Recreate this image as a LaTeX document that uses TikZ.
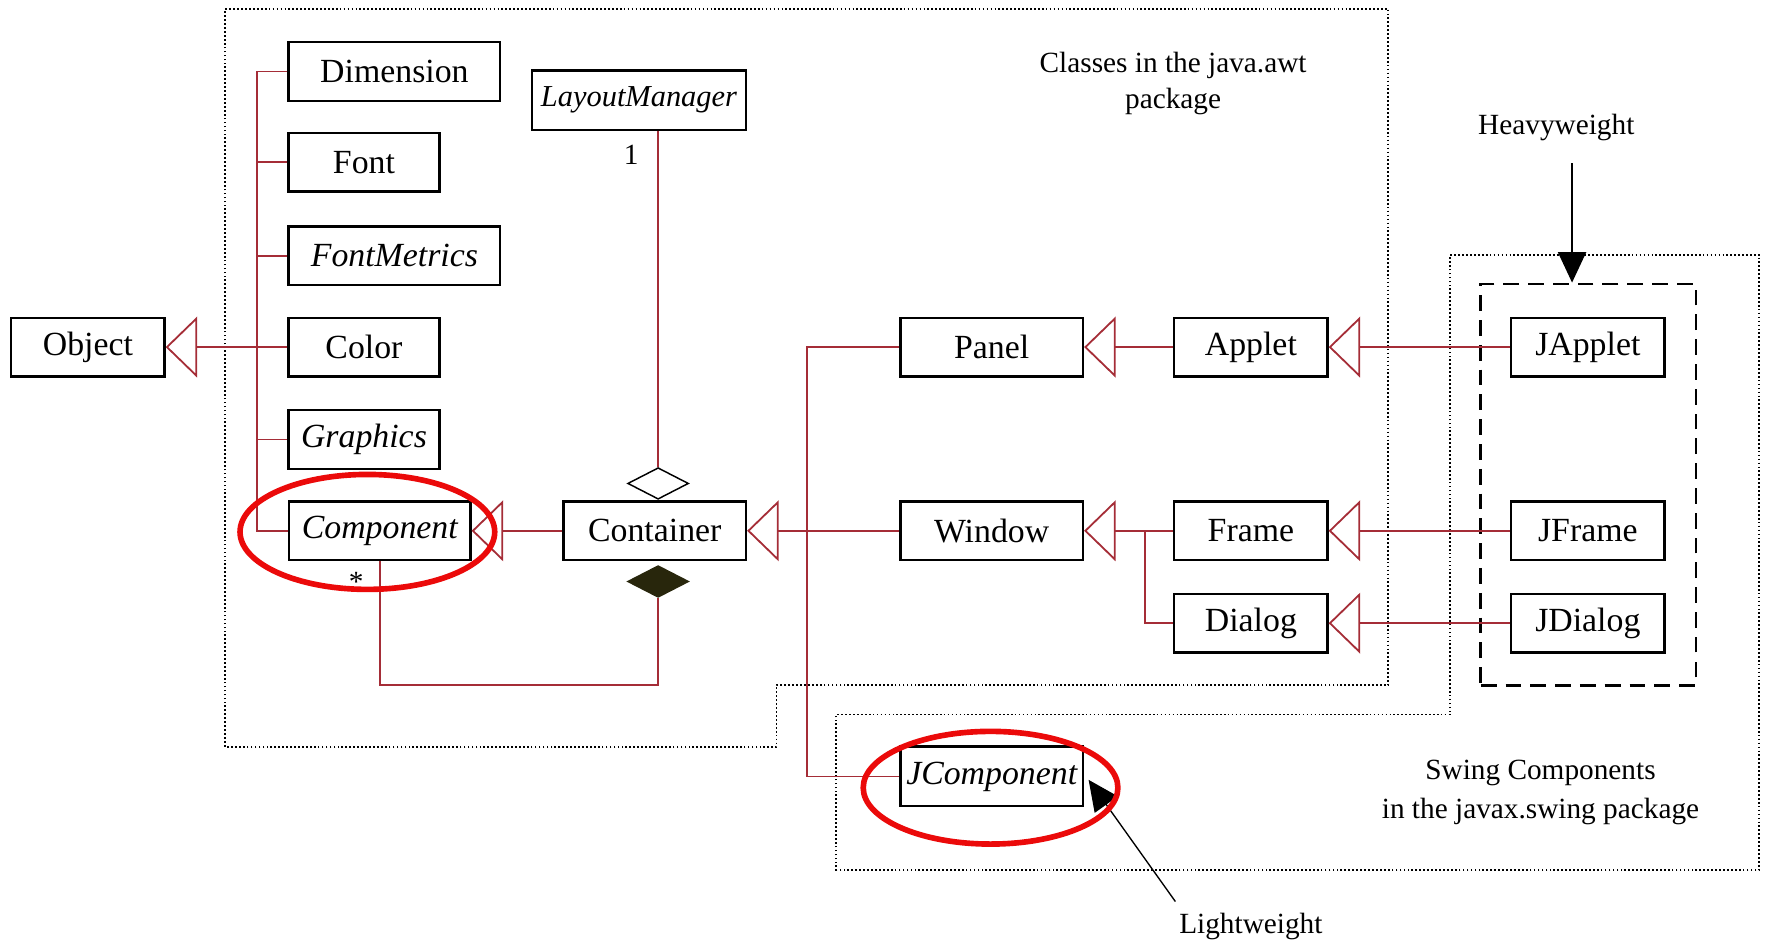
\documentclass[tikz,border=0pt]{standalone}
\usepackage{fontspec}
\setmainfont{Liberation Serif}
\usetikzlibrary{arrows.meta,shapes.geometric,calc}
\definecolor{umlred}{RGB}{165,45,55}
\definecolor{hilite}{RGB}{235,10,10}
\definecolor{compfill}{RGB}{40,38,12}

\begin{document}
\begin{tikzpicture}[x=1pt,y=-1pt,
  cls/.style={draw=black, line width=2pt, fill=white, inner sep=0pt,
    minimum height=52pt, font=\fontsize{30}{36}\selectfont},
  abs/.style={cls, font=\fontsize{30}{36}\selectfont\itshape},
  lbl/.style={font=\fontsize{26}{35}\selectfont, align=center, inner sep=0pt},
  rel/.style={draw=umlred, line width=1.6pt},
  gen/.style={rel, -{Triangle[length=28pt, width=54pt, fill=white]}},
  odiam/.style={diamond, draw=black, line width=1.3pt, fill=white, inner sep=0pt,
    minimum width=54pt, minimum height=28pt},
  fdiam/.style={odiam, draw=compfill, fill=compfill},
  pkg/.style={draw=black, line width=1.6pt, dash pattern=on 1.5pt off 2pt},
  dbox/.style={draw=black, line width=2.5pt, dash pattern=on 14pt off 8pt, inner sep=0pt},
  pointer/.style={draw=black, line width=1.2pt, -{Triangle[length=27pt, width=25pt]}},
  ring/.style={draw=hilite, line width=5pt}
]
\useasboundingbox (0,0) rectangle (1568,836);

% package outlines
\draw[pkg] (200,8) -- (1232,8) -- (1232,608) -- (689,608) -- (689,663) -- (200,663) -- cycle;
\draw[pkg] (1287,226) -- (1561,226) -- (1561,772) -- (742,772) -- (742,634) -- (1287,634) -- cycle;
\node[dbox, minimum width=191pt, minimum height=356pt] (heavy) at (1409.5,430) {};

% package captions
\node[lbl, font=\fontsize{26}{32}\selectfont] (awtcap) at (1041,74) {Classes in the java.awt\\package};
\node[lbl] (swingcap) at (1367,703) {Swing Components\\in the javax.swing package};

% classes
\node[cls, minimum width=136pt] (obj) at (78,308) {Object};
\node[cls, minimum width=188pt] (dim) at (350,63.5) {Dimension};
\node[cls, minimum width=134pt] (font) at (323,144) {Font};
\node[abs, minimum width=188pt] (fm) at (350,227) {FontMetrics};
\node[cls, minimum width=134pt] (color) at (323,308) {Color};
\node[abs, minimum width=134pt] (gfx) at (323,390) {Graphics};
\node[abs, minimum width=161pt] (comp) at (337,471) {Component};
\node[abs, minimum width=190pt, minimum height=53pt,
  font=\fontsize{27}{32}\selectfont\itshape] (lm) at (567,89) {LayoutManager};
\node[cls, minimum width=162pt] (cont) at (581,471) {Container};
\node[cls, minimum width=162pt] (panel) at (880,308) {Panel};
\node[cls, minimum width=136pt] (applet) at (1110,308) {Applet};
\node[cls, minimum width=136pt] (japplet) at (1409,308) {JApplet};
\node[cls, minimum width=162pt] (window) at (880,471) {Window};
\node[cls, minimum width=136pt] (frame) at (1110,471) {Frame};
\node[cls, minimum width=136pt] (jframe) at (1409,471) {JFrame};
\node[cls, minimum width=136pt] (dialog) at (1110,553) {Dialog};
\node[cls, minimum width=136pt] (jdialog) at (1409,553) {JDialog};
\node[abs, minimum width=162pt, minimum height=53pt] (jcomp) at (880,689) {JComponent};

% java.lang.Object subclasses
\draw[rel] (dim.west) -- ++(-27,0) |- (comp.west);
\draw[rel] (font.west) -- ++(-27,0);
\draw[rel] (fm.west) -- ++(-27,0);
\draw[rel] (gfx.west) -- ++(-27,0);
\draw[gen] (color.west) -- (obj.east);

% Container hierarchy
\draw[gen] (cont.west) -- (comp.east);
\coordinate (cbus) at (716,471);
\draw[rel] (panel.west) -| (cbus) |- (jcomp.west);
\draw[gen] (window.west) -- (cont.east);
\draw[gen] (applet.west) -- (panel.east);
\draw[gen] (japplet.west) -- (applet.east);
\coordinate (wbus) at (1016,471);
\draw[rel] (dialog.west) -| (wbus);
\draw[gen] (frame.west) -- (window.east);
\draw[gen] (jframe.west) -- (frame.east);
\draw[gen] (jdialog.west) -- (dialog.east);

% aggregation with LayoutManager
\node[odiam] (agg) at (584,429) {};
\draw[rel] (agg.north) -- (agg.north |- lm.south);
\node[lbl] (one) at (560,137) {1};

% composition of Components
\node[fdiam] (cmp) at (584,516) {};
\coordinate (cbot) at (0,608);
\draw[rel] (cmp.south) -- (cmp.south |- cbot) -| (comp.south);
\node[lbl] (many) at (316,516) {*};

% heavyweight / lightweight pointers
\node[lbl] (hw) at (1381,113) {Heavyweight};
\coordinate (hwtail) at (1395,145);
\draw[pointer] (hwtail) -- (hwtail |- heavy.north);
\node[lbl] (lw) at (1110,822) {Lightweight};
\coordinate (lwtail) at (1043,800);
\draw[pointer] (lwtail) -- ($(jcomp.east)+(4,3)$);

% highlight rings
\draw[ring] (326,472) ellipse [x radius=113, y radius=51];
\draw[ring] (879,699) ellipse [x radius=113, y radius=50];
\end{tikzpicture}
\end{document}
